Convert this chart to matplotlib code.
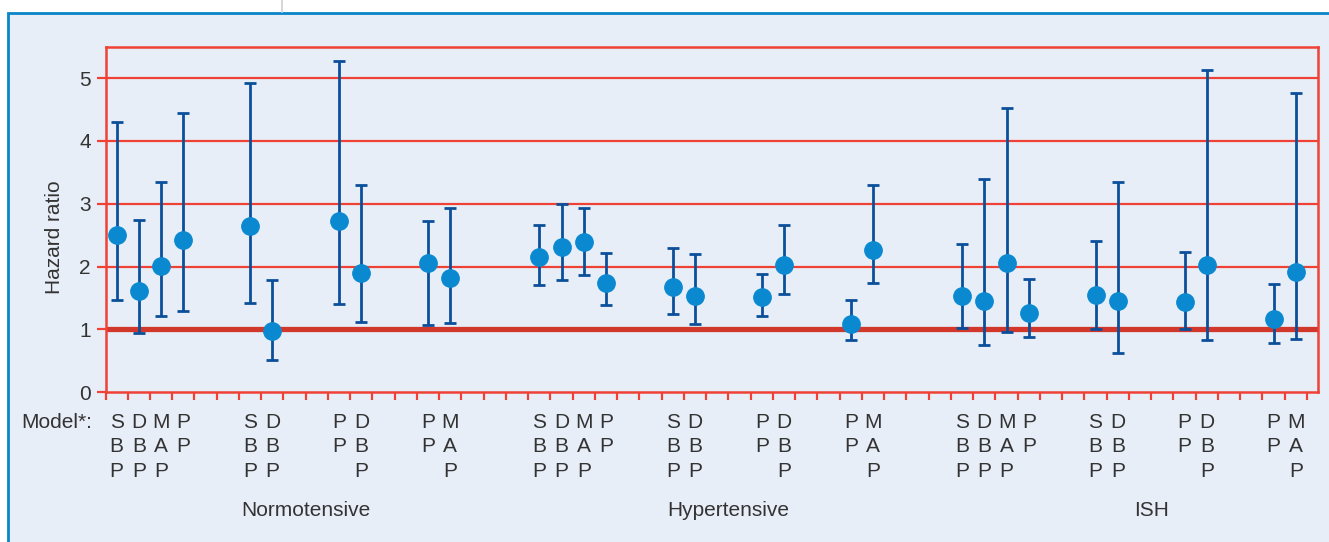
import matplotlib
matplotlib.use('Agg')
import matplotlib.pyplot as plt
from matplotlib.transforms import blended_transform_factory
from matplotlib.patches import Rectangle
from matplotlib.lines import Line2D

plt.rcParams['font.family'] = ['Liberation Sans', 'DejaVu Sans']

# data
groups = ['Normotensive', 'Hypertensive', 'ISH']
models = ['SBP', 'DBP', 'MAP', 'PP', 'SBP', 'DBP', 'PP', 'DBP', 'PP', 'MAP']
cluster_sizes = [4, 2, 2, 2]

norm_hr = [2.51, 1.62, 2.01, 2.42, 2.64, 0.98, 2.72, 1.90, 2.05, 1.82]
norm_lo = [1.47, 0.95, 1.22, 1.29, 1.42, 0.51, 1.40, 1.12, 1.07, 1.10]
norm_hi = [4.30, 2.75, 3.35, 4.44, 4.93, 1.79, 5.28, 3.30, 2.72, 2.93]

hyp_hr = [2.15, 2.32, 2.39, 1.74, 1.68, 1.54, 1.51, 2.02, 1.09, 2.27]
hyp_lo = [1.71, 1.78, 1.87, 1.39, 1.25, 1.09, 1.22, 1.57, 0.83, 1.74]
hyp_hi = [2.67, 3.00, 2.93, 2.22, 2.30, 2.20, 1.89, 2.67, 1.47, 3.30]

ish_hr = [1.54, 1.46, 2.05, 1.26, 1.55, 1.45, 1.44, 2.03, 1.16, 1.91]
ish_lo = [1.02, 0.76, 0.96, 0.88, 1.01, 0.63, 1.01, 0.83, 0.79, 0.85]
ish_hi = [2.36, 3.40, 4.53, 1.81, 2.40, 3.35, 2.23, 5.13, 1.72, 4.77]

yticks = [0, 1, 2, 3, 4, 5]

red = '#EF4136'
dark_red = '#D2372C'
bar_col = '#0B4F9A'
dot_col = '#0A89D1'
txt_col = '#333333'
bg = '#E8EEF8'

W, H = 1329, 542
fig = plt.figure(figsize=(W / 100, H / 100), dpi=100)
fig.patch.set_facecolor('white')

# light blue panel with blue border
fig.add_artist(Rectangle((7.5 / W, -0.1), 1.2, 1 - 12.8 / H + 0.1, transform=fig.transFigure,
                         fc=bg, ec='#0A85C8', lw=2, zorder=-5))
fig.add_artist(Line2D([281.5 / W] * 2, [1, 1 - 12 / H], color='#CFCFCF', lw=1.2,
                      transform=fig.transFigure))

ax = fig.add_axes([105.5 / W, 1 - 392.3 / H, (1318 - 105.5) / W, (392.3 - 46.7) / H])
ax.set_facecolor('none')
ax.set_xlim(0, 54.5)
ax.set_ylim(0, 5.5)

for y in yticks[2:]:
    ax.axhline(y, color=red, lw=1.6, zorder=1)
ax.axhline(1, color=dark_red, lw=3.8, zorder=1)

for s in ax.spines.values():
    s.set_color(red)
    s.set_linewidth(1.8)

ax.set_xticks(range(55))
ax.tick_params(axis='x', length=6, width=1.6, color=red, labelbottom=False)
ax.set_yticks(yticks)
ax.tick_params(axis='y', length=6.5, width=1.6, color=red, labelsize=15,
               labelcolor=txt_col, pad=4)

def positions(g):
    start = g * 19
    xs = []
    off = 0
    for k, n in enumerate(cluster_sizes):
        for i in range(n):
            xs.append(start + off + i + 0.5)
        off += n + 2
    return xs

trans = blended_transform_factory(ax.transData, fig.transFigure)
row_y = [1 - 422.5 / H, 1 - 447 / H, 1 - 471.7 / H]

all_data = [(norm_hr, norm_lo, norm_hi), (hyp_hr, hyp_lo, hyp_hi), (ish_hr, ish_lo, ish_hi)]
for g, (hr, lo, hi) in enumerate(all_data):
    xs = positions(g)
    err = [[h - l for h, l in zip(hr, lo)], [u - h for h, u in zip(hr, hi)]]
    ax.errorbar(xs, hr, yerr=err, fmt='none', ecolor=bar_col, elinewidth=2,
                capsize=4.5, capthick=2, zorder=3)
    ax.plot(xs, hr, 'o', color=dot_col, ms=12.5, zorder=4)
    for x, m in zip(xs, models):
        for r, ch in enumerate(m):
            ax.text(x, row_y[r], ch, transform=trans, ha='center', va='center',
                    fontsize=15, color=txt_col)
    ax.text(g * 19 + 9, 1 - 510 / H, groups[g], transform=trans, ha='center',
            va='center', fontsize=15, color=txt_col)

ax.text(-0.62, row_y[0], 'Model*:', transform=trans, ha='right', va='center',
        fontsize=15, color=txt_col)

fig.text(54.5 / W, 1 - 237 / H, 'Hazard ratio', rotation=90, ha='center', va='center',
         fontsize=15, color=txt_col)

fig.savefig('out.png', dpi=100)
